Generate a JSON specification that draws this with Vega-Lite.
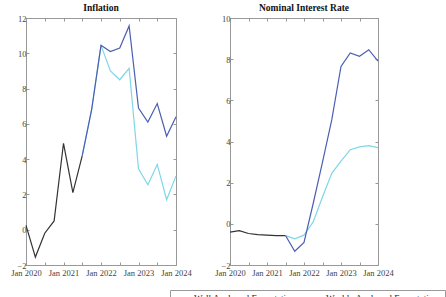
{
  "$schema": "https://vega.github.io/schema/vega-lite/v6.json",
  "padding": {"left": 10, "top": 2, "right": 0, "bottom": 0},
  "spacing": 22,
  "datasets": {
    "infl": [
      {"s": "Pre", "t": 2020.0, "v": 0.25},
      {"s": "Pre", "t": 2020.25, "v": -1.55},
      {"s": "Pre", "t": 2020.5, "v": -0.2},
      {"s": "Pre", "t": 2020.75, "v": 0.5},
      {"s": "Pre", "t": 2021.0, "v": 4.9},
      {"s": "Pre", "t": 2021.25, "v": 2.1},
      {"s": "Pre", "t": 2021.5, "v": 4.2},
      {"s": "Well Anchored Expectations", "t": 2021.5, "v": 4.2},
      {"s": "Well Anchored Expectations", "t": 2021.75, "v": 6.8},
      {"s": "Well Anchored Expectations", "t": 2022.0, "v": 10.45},
      {"s": "Well Anchored Expectations", "t": 2022.25, "v": 9.0},
      {"s": "Well Anchored Expectations", "t": 2022.5, "v": 8.5},
      {"s": "Well Anchored Expectations", "t": 2022.75, "v": 9.15},
      {"s": "Well Anchored Expectations", "t": 2023.0, "v": 3.45},
      {"s": "Well Anchored Expectations", "t": 2023.25, "v": 2.55},
      {"s": "Well Anchored Expectations", "t": 2023.5, "v": 3.7},
      {"s": "Well Anchored Expectations", "t": 2023.75, "v": 1.7},
      {"s": "Well Anchored Expectations", "t": 2024.0, "v": 3.05},
      {"s": "Weakly Anchored Expectations", "t": 2021.5, "v": 4.2},
      {"s": "Weakly Anchored Expectations", "t": 2021.75, "v": 6.8},
      {"s": "Weakly Anchored Expectations", "t": 2022.0, "v": 10.45},
      {"s": "Weakly Anchored Expectations", "t": 2022.25, "v": 10.1},
      {"s": "Weakly Anchored Expectations", "t": 2022.5, "v": 10.3},
      {"s": "Weakly Anchored Expectations", "t": 2022.75, "v": 11.55},
      {"s": "Weakly Anchored Expectations", "t": 2023.0, "v": 6.9},
      {"s": "Weakly Anchored Expectations", "t": 2023.25, "v": 6.1},
      {"s": "Weakly Anchored Expectations", "t": 2023.5, "v": 7.15},
      {"s": "Weakly Anchored Expectations", "t": 2023.75, "v": 5.3},
      {"s": "Weakly Anchored Expectations", "t": 2024.0, "v": 6.4}
    ],
    "rate": [
      {"s": "Pre", "t": 2020.0, "v": -0.4},
      {"s": "Pre", "t": 2020.25, "v": -0.33},
      {"s": "Pre", "t": 2020.5, "v": -0.47},
      {"s": "Pre", "t": 2020.75, "v": -0.52},
      {"s": "Pre", "t": 2021.0, "v": -0.55},
      {"s": "Pre", "t": 2021.25, "v": -0.57},
      {"s": "Pre", "t": 2021.5, "v": -0.57},
      {"s": "Well Anchored Expectations", "t": 2021.5, "v": -0.57},
      {"s": "Well Anchored Expectations", "t": 2021.75, "v": -0.73},
      {"s": "Well Anchored Expectations", "t": 2022.0, "v": -0.55},
      {"s": "Well Anchored Expectations", "t": 2022.25, "v": 0.1},
      {"s": "Well Anchored Expectations", "t": 2022.5, "v": 1.3},
      {"s": "Well Anchored Expectations", "t": 2022.75, "v": 2.45},
      {"s": "Well Anchored Expectations", "t": 2023.0, "v": 3.05},
      {"s": "Well Anchored Expectations", "t": 2023.25, "v": 3.6},
      {"s": "Well Anchored Expectations", "t": 2023.5, "v": 3.74},
      {"s": "Well Anchored Expectations", "t": 2023.75, "v": 3.8},
      {"s": "Well Anchored Expectations", "t": 2024.0, "v": 3.7},
      {"s": "Weakly Anchored Expectations", "t": 2021.5, "v": -0.57},
      {"s": "Weakly Anchored Expectations", "t": 2021.75, "v": -1.33},
      {"s": "Weakly Anchored Expectations", "t": 2022.0, "v": -0.9},
      {"s": "Weakly Anchored Expectations", "t": 2022.25, "v": 1.0},
      {"s": "Weakly Anchored Expectations", "t": 2022.5, "v": 3.0},
      {"s": "Weakly Anchored Expectations", "t": 2022.75, "v": 5.05},
      {"s": "Weakly Anchored Expectations", "t": 2023.0, "v": 7.65},
      {"s": "Weakly Anchored Expectations", "t": 2023.25, "v": 8.3},
      {"s": "Weakly Anchored Expectations", "t": 2023.5, "v": 8.14},
      {"s": "Weakly Anchored Expectations", "t": 2023.75, "v": 8.46},
      {"s": "Weakly Anchored Expectations", "t": 2024.0, "v": 7.9}
    ]
  },
  "config": {
    "font": "Liberation Serif",
    "view": {"stroke": "#999", "strokeWidth": 1},
    "title": {"font": "Liberation Serif", "fontSize": 9.5, "fontWeight": "bold", "color": "#111", "offset": 2},
    "axis": {
      "labelFont": "Liberation Serif", "labelFontSize": 8.5, "labelColor": "#444",
      "grid": false, "domain": false, "tickColor": "#999", "tickSize": -3, "labelPadding": 3, "title": null,
      "labelFlush": false, "labelBound": false, "labelOverlap": false
    },
    "axisBottom": {"labelPadding": 6},
    "legend": {
      "labelFont": "Liberation Serif", "labelFontSize": 9.2, "labelColor": "#222",
      "strokeColor": "#999", "padding": 2, "symbolType": "M-1,0H2.8", "symbolSize": 100,
      "symbolStrokeWidth": 1.2, "columnPadding": 2, "labelOffset": 10, "labelLimit": 300
    }
  },
  "hconcat": [
    {
      "title": "Inflation",
      "width": 150, "height": 247,
      "data": {"name": "infl"},
      "resolve": {"axis": {"x": "independent", "y": "independent"}},
      "layer": [
        {
          "transform": [{"filter": "datum.s == 'Pre'"}],
          "mark": {"type": "line", "color": "#333", "strokeWidth": 1.2},
          "encoding": {
            "x": {"field": "t", "type": "quantitative", "scale": {"domain": [2020, 2024], "nice": false, "zero": false},
                  "axis": {"orient": "bottom", "values": [2020, 2020.5, 2021, 2021.5, 2022, 2022.5, 2023, 2023.5, 2024],
                           "labelExpr": "datum.value % 1 == 0 ? 'Jan ' + datum.value : ''"}},
            "y": {"field": "v", "type": "quantitative", "scale": {"domain": [-2, 12], "nice": false},
                  "axis": {"orient": "left", "values": [-2, 0, 2, 4, 6, 8, 10, 12]}}
          }
        },
        {
          "transform": [{"filter": "datum.s == 'Well Anchored Expectations'"}],
          "mark": {"type": "line", "strokeWidth": 1.2},
          "encoding": {
            "x": {"field": "t", "type": "quantitative",
                  "axis": {"orient": "top", "labels": false, "values": [2020, 2020.5, 2021, 2021.5, 2022, 2022.5, 2023, 2023.5, 2024]}},
            "y": {"field": "v", "type": "quantitative",
                  "axis": {"orient": "right", "labels": false, "values": [-2, 0, 2, 4, 6, 8, 10, 12]}},
            "color": {"field": "s", "type": "nominal",
                      "scale": {"domain": ["Well Anchored Expectations", "Weakly Anchored Expectations"], "range": ["#7fd6e8", "#4a5fb2"]},
                      "legend": {"title": null, "orient": "none", "direction": "horizontal", "columns": 2, "legendX": 144, "legendY": 272}}
          }
        },
        {
          "transform": [{"filter": "datum.s == 'Weakly Anchored Expectations'"}],
          "mark": {"type": "line", "strokeWidth": 1.2},
          "encoding": {
            "x": {"field": "t", "type": "quantitative", "axis": null},
            "y": {"field": "v", "type": "quantitative", "axis": null},
            "color": {"field": "s", "type": "nominal"}
          }
        }
      ]
    },
    {
      "title": "Nominal Interest Rate",
      "width": 148, "height": 247,
      "data": {"name": "rate"},
      "resolve": {"axis": {"x": "independent", "y": "independent"}},
      "layer": [
        {
          "transform": [{"filter": "datum.s == 'Pre'"}],
          "mark": {"type": "line", "color": "#333", "strokeWidth": 1.2},
          "encoding": {
            "x": {"field": "t", "type": "quantitative", "scale": {"domain": [2020, 2024], "nice": false, "zero": false},
                  "axis": {"orient": "bottom", "values": [2020, 2020.5, 2021, 2021.5, 2022, 2022.5, 2023, 2023.5, 2024],
                           "labelExpr": "datum.value % 1 == 0 ? 'Jan ' + datum.value : ''"}},
            "y": {"field": "v", "type": "quantitative", "scale": {"domain": [-2, 10], "nice": false},
                  "axis": {"orient": "left", "values": [-2, 0, 2, 4, 6, 8, 10]}}
          }
        },
        {
          "transform": [{"filter": "datum.s == 'Well Anchored Expectations'"}],
          "mark": {"type": "line", "strokeWidth": 1.2},
          "encoding": {
            "x": {"field": "t", "type": "quantitative",
                  "axis": {"orient": "top", "labels": false, "values": [2020, 2020.5, 2021, 2021.5, 2022, 2022.5, 2023, 2023.5, 2024]}},
            "y": {"field": "v", "type": "quantitative",
                  "axis": {"orient": "right", "labels": false, "values": [-2, 0, 2, 4, 6, 8, 10]}},
            "color": {"field": "s", "type": "nominal"}
          }
        },
        {
          "transform": [{"filter": "datum.s == 'Weakly Anchored Expectations'"}],
          "mark": {"type": "line", "strokeWidth": 1.2},
          "encoding": {
            "x": {"field": "t", "type": "quantitative", "axis": null},
            "y": {"field": "v", "type": "quantitative", "axis": null},
            "color": {"field": "s", "type": "nominal"}
          }
        }
      ]
    }
  ]
}
